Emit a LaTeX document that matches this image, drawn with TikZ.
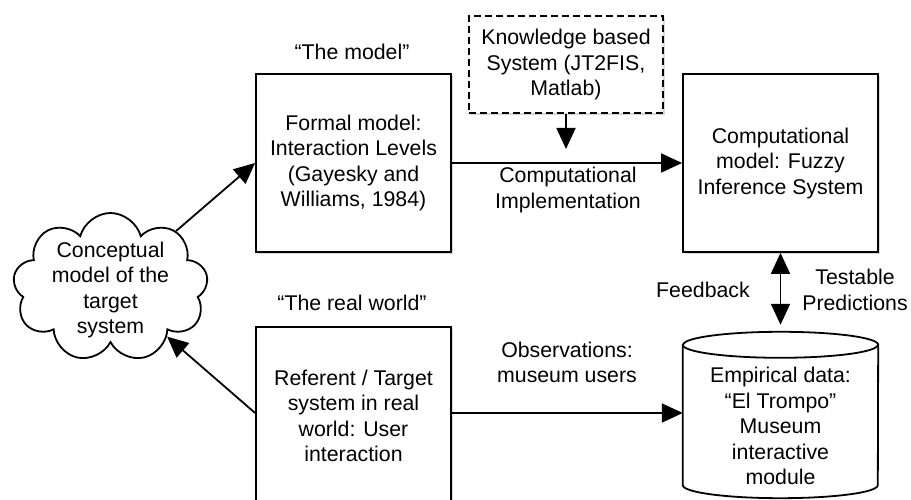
\documentclass[tikz,border=0pt]{standalone}
\usepackage{fontspec}
\setmainfont{Liberation Sans}
\usetikzlibrary{shapes.symbols,arrows.meta,shadows}
\begin{document}
\begin{tikzpicture}[x=1pt,y=1pt,
  font=\fontsize{21.3}{25.5}\selectfont,
  shad/.style={drop shadow={shadow xshift=1.5pt,shadow yshift=-2.5pt,opacity=0.3}},
  box/.style={draw,line width=1.8pt,fill=white,minimum width=195pt,minimum height=178pt,align=center,inner sep=0pt,shad},
  kbox/.style={draw,line width=1.8pt,fill=white,dash pattern=on 7pt off 4pt,minimum width=194pt,minimum height=97pt,align=center,inner sep=0pt,shad},
  arr/.style={line width=1.8pt,-{Triangle[length=21pt,width=19pt]}},
  darr/.style={line width=1.8pt,{Triangle[length=21pt,width=19pt]}-{Triangle[length=21pt,width=19pt]}},
  lbl/.style={align=center,inner sep=0pt}]
\useasboundingbox (0,0) rectangle (911,500);

% cloud
\node[cloud,draw,line width=1.8pt,cloud puffs=9,aspect=1.31,minimum width=195pt,minimum height=149pt,align=center,inner sep=0pt] (cloud) at (110.5,212.5) {};
\node[lbl] (cloudtext) at (110.5,210) {Conceptual\\model of the\\target\\system};

% boxes
\node[box] (formal) at (353.5,337) {Formal model:\\Interaction Levels\\(Gayesky and\\Williams, 1984)};
\node[box] (real) at (353.5,84) {Referent / Target\\system in real\\world: User\\interaction};
\node[kbox] (know) at (566,435.5) {Knowledge based\\System (JT2FIS,\\Matlab)};
\node[box] (comp) at (780.5,337) {Computational\\model: Fuzzy\\Inference System};

% cylinder
\node[minimum width=195pt,minimum height=166pt,inner sep=0pt] (emp) at (780.5,85) {};
\fill[black,opacity=0.3,xshift=1.5pt,yshift=-2.5pt]
  ([yshift=-13pt]emp.north west) -- ([yshift=13pt]emp.south west)
  arc[start angle=180,end angle=360,x radius=97.5pt,y radius=13pt]
  -- ([yshift=-13pt]emp.north east)
  arc[start angle=0,end angle=180,x radius=97.5pt,y radius=13pt] -- cycle;
\draw[line width=1.8pt,fill=white]
  ([yshift=-13pt]emp.north west) -- ([yshift=13pt]emp.south west)
  arc[start angle=180,end angle=360,x radius=97.5pt,y radius=13pt]
  -- ([yshift=-13pt]emp.north east)
  arc[start angle=0,end angle=180,x radius=97.5pt,y radius=13pt] -- cycle;
\draw[line width=1.8pt] ([yshift=-13pt]emp.north west)
  arc[start angle=180,end angle=360,x radius=97.5pt,y radius=13pt];
\node[lbl] (emptext) at (780.5,74) {Empirical data:\\“El Trompo”\\Museum\\interactive\\module};

% labels
\node[lbl] (lmodel) at (352,448) {“The model”};
\node[lbl] (lreal) at (352,197) {“The real world”};
\node[lbl] (limpl) at (568,310) {Computational\\Implementation};
\node[lbl] (lobs) at (567,137.5) {Observations:\\museum users};
\node[lbl] (lfeed) at (703,210) {Feedback};
\node[lbl] (ltest) at (855,210) {Testable\\Predictions};

% connectors
\coordinate (ktip) at (566,351);
\draw[arr] (cloud) -- (formal.west);
\draw[arr] ([yshift=3pt]real.west) -- (cloud);
\draw[arr] (formal.east) -- (comp.west);
\draw[arr] (know.south) -- (ktip);
\draw[arr] ([yshift=3pt]real.east) -- ([yshift=3pt]real.east -| emp.west);
\draw[darr] (comp.south) -- ([yshift=7pt]emp.north);
\end{tikzpicture}
\end{document}
